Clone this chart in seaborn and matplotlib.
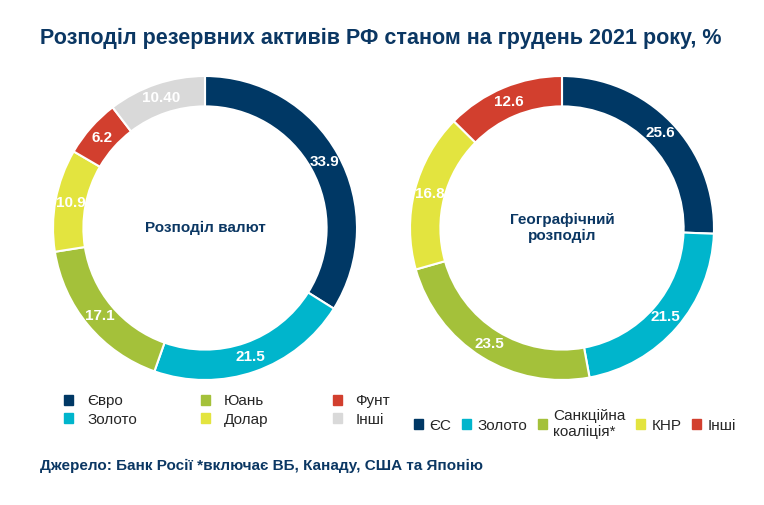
import matplotlib.pyplot as plt
import seaborn as sns
from matplotlib.patches import Patch

sns.set_style("white")
plt.rcParams['font.family'] = ['Liberation Sans', 'DejaVu Sans']

title = "Розподіл резервних активів РФ станом на грудень 2021 року, %"
source = "Джерело: Банк Росії *включає ВБ, Канаду, США та Японію"

cur_names = ["Євро", "Золото", "Юань", "Долар", "Фунт", "Інші"]
cur_vals = [33.9, 21.5, 17.1, 10.9, 6.2, 10.40]
cur_labels = ["33.9", "21.5", "17.1", "10.9", "6.2", "10.40"]
cur_colors = ["#003865", "#00b5cc", "#a4c13a", "#e3e43f", "#d23f2e", "#d9d9d9"]

geo_names = ["ЄС", "Золото", "Санкційна\nкоаліція*", "КНР", "Інші"]
geo_vals = [25.6, 21.5, 23.5, 16.8, 12.6]
geo_labels = ["25.6", "21.5", "23.5", "16.8", "12.6"]
geo_colors = ["#003865", "#00b5cc", "#a4c13a", "#e3e43f", "#d23f2e"]

navy = "#0b3763"
W, H = 764, 505
fig = plt.figure(figsize=(W / 100, H / 100), dpi=100)


def donut(cx, cy, r, vals, labels, colors, center_text):
    ax = fig.add_axes([(cx - r) / W, 1 - (cy + r) / H, 2 * r / W, 2 * r / H])
    wedges, texts = ax.pie(vals, labels=labels, colors=colors, startangle=90,
                           counterclock=False, radius=1, labeldistance=0.9,
                           wedgeprops=dict(width=0.2, edgecolor="white", linewidth=1.5),
                           textprops=dict(color="white", fontsize=11, fontweight="bold"))
    for t in texts:
        t.set_ha("center")
        t.set_va("center")
    ax.text(0, 0, center_text, ha="center", va="center", fontsize=11,
            fontweight="bold", color=navy)
    ax.set_xlim(-1, 1)
    ax.set_ylim(-1, 1)
    ax.set_aspect("equal")
    ax.axis("off")


donut(205, 228, 152, cur_vals, cur_labels, cur_colors, "Розподіл валют")
donut(562, 228, 152, geo_vals, geo_labels, geo_colors, "Географічний\nрозподіл")

fig.text(40 / W, 1 - 38 / H, title, fontsize=15.5, fontweight="bold", color=navy, va="center")
fig.text(40 / W, 1 - 466 / H, source, fontsize=11, fontweight="bold", color=navy, va="center")

h1 = [Patch(color=c) for c in cur_colors]
fig.legend(h1, cur_names, loc="upper left", bbox_to_anchor=(58 / W, 1 - 388 / H), ncol=3,
           frameon=False, fontsize=11, handlelength=0.6, handleheight=0.6,
           columnspacing=4.2, labelspacing=0.3, handletextpad=0.9, borderaxespad=0)
h2 = [Patch(color=c) for c in geo_colors]
fig.legend(h2, geo_names, loc="upper left", bbox_to_anchor=(408 / W, 1 - 403 / H), ncol=5,
           frameon=False, fontsize=11, handlelength=0.6, handleheight=0.6,
           columnspacing=0.7, handletextpad=0.4, borderaxespad=0)

fig.savefig("out.png", dpi=100)
